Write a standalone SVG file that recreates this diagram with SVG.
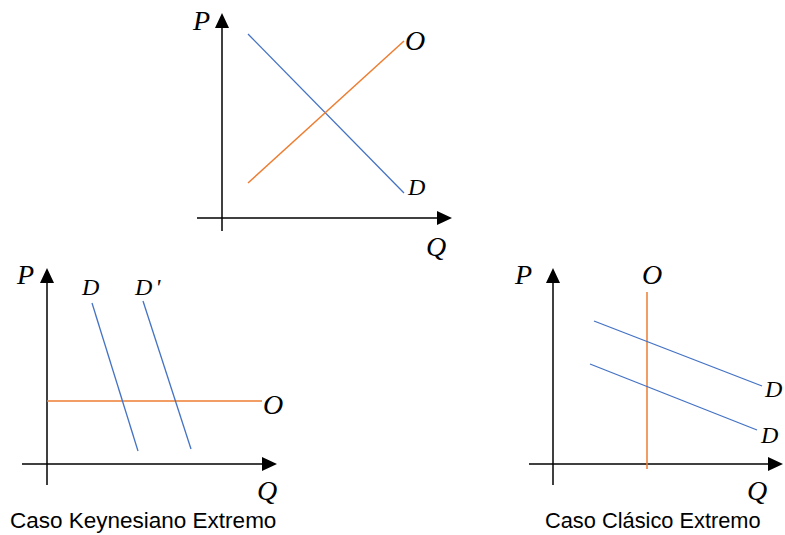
<svg xmlns="http://www.w3.org/2000/svg" width="785" height="535" viewBox="0 0 785 535">
<style>
.ax{stroke:#000;stroke-width:1.5;fill:none}
.d{stroke:#4472C4;stroke-width:1.3;fill:none}
.o{stroke:#ED7D31;stroke-width:1.5;fill:none}
.lb{font-family:"Liberation Serif","Times New Roman",serif;font-style:italic;fill:#000}
.big{font-size:28px}
.sm{font-size:24px}
.cap{font-family:"Liberation Sans",Arial,sans-serif;fill:#000}
</style>
<defs>
<marker id="ah" markerUnits="userSpaceOnUse" markerWidth="16" markerHeight="16" viewBox="0 0 16 16" refX="0" refY="8" orient="auto">
<path d="M0,1 L15,8 L0,15 Z" fill="#000"/>
</marker>
</defs>
<g id="connectors">
<line class="ax" x1="222" y1="231" x2="222" y2="28" marker-end="url(#ah)"/>
<line class="ax" x1="197" y1="218" x2="437" y2="218" marker-end="url(#ah)"/>
<line class="d" x1="248" y1="34" x2="404" y2="193"/>
<line class="o" x1="248" y1="183" x2="404" y2="41"/>
<line class="ax" x1="47" y1="485" x2="47" y2="283" marker-end="url(#ah)"/>
<line class="ax" x1="22" y1="464" x2="262" y2="464" marker-end="url(#ah)"/>
<line class="o" x1="47" y1="401" x2="262" y2="401"/>
<line class="d" x1="92" y1="303" x2="138" y2="451"/>
<line class="d" x1="143" y1="301" x2="191" y2="449"/>
<line class="ax" x1="553" y1="485" x2="553" y2="283" marker-end="url(#ah)"/>
<line class="ax" x1="529" y1="464" x2="768" y2="464" marker-end="url(#ah)"/>
<line class="o" x1="647" y1="292" x2="647" y2="469"/>
<line class="d" x1="594" y1="321" x2="762" y2="386"/>
<line class="d" x1="590" y1="364" x2="757" y2="430"/>
</g>
<g id="graph-top">
<text class="lb big" x="193" y="30">P</text>
<text class="lb big" x="405" y="50">O</text>
<text class="lb sm" x="408" y="195">D</text>
<text class="lb big" x="426" y="256">Q</text>
</g>
<g id="graph-keynes">
<text class="lb big" x="17" y="284">P</text>
<text class="lb sm" x="82" y="295">D</text>
<text class="lb sm" x="135" y="295">D<tspan dx="3">'</tspan></text>
<text class="lb big" x="263" y="414">O</text>
<text class="lb big" x="257" y="500">Q</text>
<text class="cap" x="10" y="528" font-size="22.5">Caso Keynesiano Extremo</text>
</g>
<g id="graph-clasico">
<text class="lb big" x="515" y="284">P</text>
<text class="lb big" x="642" y="284">O</text>
<text class="lb sm" x="765" y="397">D</text>
<text class="lb sm" x="761" y="443">D</text>
<text class="lb big" x="747" y="500">Q</text>
<text class="cap" x="545" y="528" font-size="21.8">Caso Clásico Extremo</text>
</g>
</svg>
